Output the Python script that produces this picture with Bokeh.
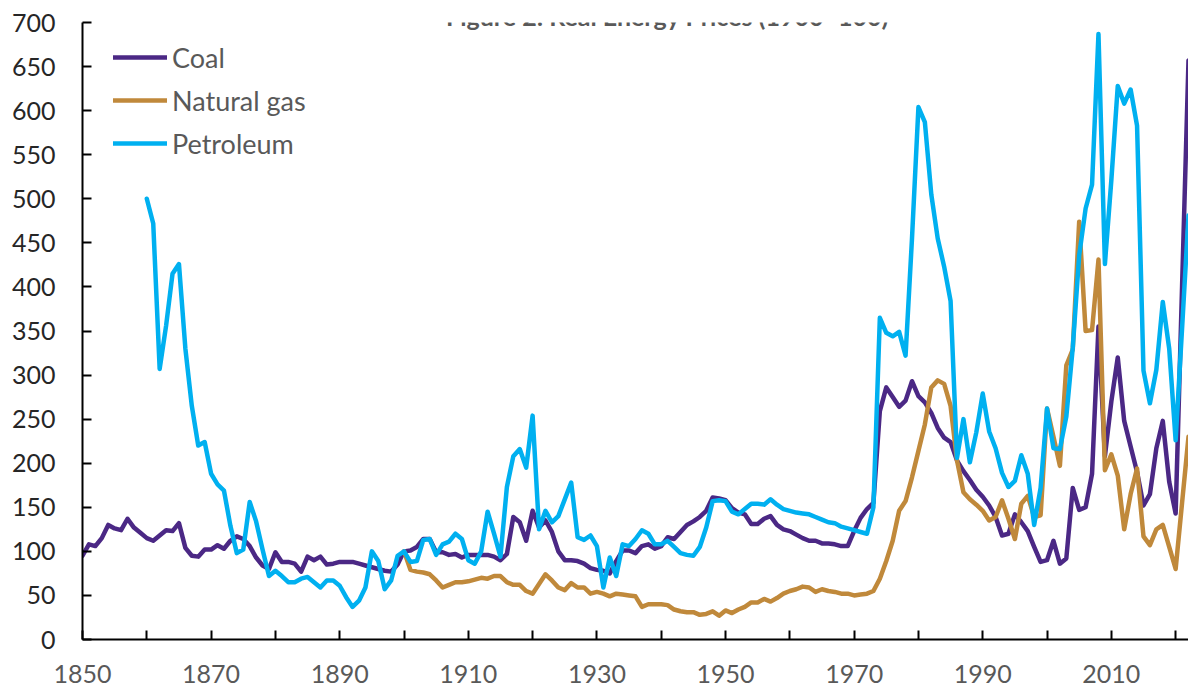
from bokeh.plotting import figure
from bokeh.models import Label, Legend, LegendItem, FixedTicker
from bokeh.embed import file_html
from bokeh.resources import INLINE

# ---------------- data (real prices, 1900 = 100) ----------------
coal_years = list(range(1850, 2023))
coal = [
    95, 108, 106, 115, 130, 126, 124, 137, 127, 121,      # 1850s
    115, 112, 118, 124, 123, 132, 104, 95, 94, 102,       # 1860s
    102, 107, 103, 112, 117, 114, 106, 93, 84, 80,        # 1870s
    99, 88, 88, 86, 77, 94, 90, 94, 85, 86,               # 1880s
    88, 88, 88, 86, 84, 82, 80, 78, 77, 85,               # 1890s
    100, 101, 105, 114, 114, 99, 99, 96, 97, 93,          # 1900s
    96, 96, 96, 96, 94, 90, 97, 139, 133, 112,            # 1910s
    146, 127, 135, 122, 100, 90, 90, 89, 86, 81,          # 1920s
    79, 78, 75, 89, 101, 101, 98, 106, 108, 103,          # 1930s
    106, 116, 114, 122, 130, 134, 139, 146, 161, 160,     # 1940s
    158, 149, 144, 142, 131, 131, 137, 140, 130, 125,     # 1950s
    123, 119, 115, 112, 112, 109, 109, 108, 106, 106,     # 1960s
    123, 138, 148, 155, 259, 286, 275, 264, 271, 293,     # 1970s
    276, 269, 257, 240, 229, 224, 203, 191, 181, 170,     # 1980s
    162, 152, 139, 118, 120, 142, 133, 123, 105, 88,      # 1990s
    90, 112, 86, 92, 172, 147, 150, 188, 355, 208,        # 2000s
    270, 320, 248, 219, 190, 152, 165, 217, 248, 179,     # 2010s
    143, 400, 657,                                        # 2020s
]

gas_years = list(range(1900, 2023))
natural_gas = [
    100, 79, 77, 76, 74, 67, 59, 62, 65, 65,              # 1900s
    66, 68, 70, 69, 72, 72, 65, 62, 62, 55,               # 1910s
    52, 63, 74, 67, 59, 56, 64, 59, 59, 52,               # 1920s
    54, 52, 49, 52, 51, 50, 49, 37, 40, 40,               # 1930s
    40, 39, 34, 32, 31, 31, 28, 29, 32, 27,               # 1940s
    33, 30, 34, 37, 42, 42, 46, 43, 47, 52,               # 1950s
    55, 57, 60, 59, 54, 57, 55, 54, 52, 52,               # 1960s
    50, 51, 52, 55, 69, 89, 112, 146, 157, 184,           # 1970s
    214, 244, 286, 294, 290, 265, 203, 167, 159, 153,     # 1980s
    146, 135, 139, 158, 137, 114, 154, 163, 139, 141,     # 1990s
    262, 230, 197, 311, 329, 474, 350, 351, 431, 192,     # 2000s
    210, 186, 125, 165, 194, 117, 107, 125, 130, 105,     # 2010s
    80, 155, 230,                                         # 2020s
]

pet_years = list(range(1860, 2023))
petroleum = [
    500, 472, 307, 356, 415, 426, 330, 265, 220, 224,     # 1860s
    188, 176, 169, 129, 98, 102, 156, 134, 102, 72,       # 1870s
    78, 72, 65, 65, 69, 71, 65, 59, 67, 67,               # 1880s
    61, 48, 37, 44, 59, 100, 89, 57, 67, 95,              # 1890s
    100, 88, 89, 113, 114, 96, 108, 111, 120, 114,        # 1900s
    90, 86, 100, 145, 120, 94, 173, 208, 216, 195,        # 1910s
    254, 125, 146, 133, 140, 159, 178, 116, 113, 118,     # 1920s
    106, 59, 93, 72, 108, 106, 114, 124, 120, 108,        # 1930s
    108, 112, 105, 98, 96, 95, 105, 127, 157, 158,        # 1940s
    157, 145, 142, 148, 154, 154, 153, 159, 153, 148,     # 1950s
    146, 144, 143, 142, 139, 136, 133, 132, 128, 126,     # 1960s
    124, 122, 120, 150, 365, 348, 344, 349, 322, 455,     # 1970s
    604, 587, 505, 455, 423, 384, 206, 250, 201, 235,     # 1980s
    279, 236, 217, 189, 173, 180, 209, 188, 130, 172,     # 1990s
    262, 217, 216, 253, 331, 436, 489, 516, 687, 426,     # 2000s
    521, 628, 608, 624, 583, 305, 268, 306, 383, 330,     # 2010s
    226, 353, 481,                                        # 2020s
]

series_names = ["Coal", "Natural gas", "Petroleum"]
series_colors = ["#4B2885", "#C0893B", "#00B0F0"]

x_ticks = list(range(1850, 2030, 10))
x_tick_labels = {t: (str(t) if (t - 1850) % 20 == 0 else "") for t in x_ticks}
y_ticks = list(range(0, 701, 50))

title_text = "Figure 2: Real Energy Prices (1900=100)"

# ---------------- figure ----------------
p = figure(width=1188, height=696, x_range=(1850, 2022), y_range=(0, 700),
           output_backend="svg", toolbar_location=None,
           min_border_left=82, min_border_right=0,
           min_border_top=22, min_border_bottom=57)
p.xgrid.visible = False
p.ygrid.visible = False
p.outline_line_color = None
p.background_fill_color = "white"
p.border_fill_color = "white"

renderers = []
for yrs, vals, col in [(coal_years, coal, series_colors[0]),
                       (gas_years, natural_gas, series_colors[1]),
                       (pet_years, petroleum, series_colors[2])]:
    r = p.line(yrs, vals, line_color=col, line_width=4.5,
               line_join="round", line_cap="round")
    renderers.append(r)

# axes
for ax in (p.xaxis, p.yaxis):
    ax.axis_line_color = "black"
    ax.axis_line_width = 2
    ax.major_tick_line_color = "black"
    ax.major_tick_line_width = 2
    ax.major_tick_in = 9
    ax.major_tick_out = 0
    ax.minor_tick_line_color = None
    ax.major_label_text_font = "Lato"
    ax.major_label_text_font_size = "25px"

p.xaxis.ticker = FixedTicker(ticks=x_ticks)
p.xaxis.major_label_overrides = x_tick_labels
p.xaxis.major_label_text_color = "#595959"
p.xaxis.major_label_standoff = 25

p.yaxis.ticker = FixedTicker(ticks=y_ticks)
p.yaxis.major_label_text_color = "#262626"
p.yaxis.major_label_standoff = 27

# legend
legend = Legend(
    items=[LegendItem(label=n, renderers=[r]) for n, r in zip(series_names, renderers)],
    location=(31, 476), glyph_width=54, glyph_height=40, spacing=3,
    padding=0, margin=0, label_standoff=5,
    label_text_font="Lato", label_text_font_size="27px",
    label_text_color="#595959",
    border_line_color=None, background_fill_alpha=0,
)
p.add_layout(legend)

# title at the very top of the page
p.add_layout(Label(x=585, y=624, x_units="screen", y_units="screen",
                   text=title_text, text_align="center", text_baseline="alphabetic",
                   text_font="Lato", text_font_style="bold", text_font_size="25px",
                   text_color="#595959"))

open("out.html", "w").write(file_html(p, INLINE))
